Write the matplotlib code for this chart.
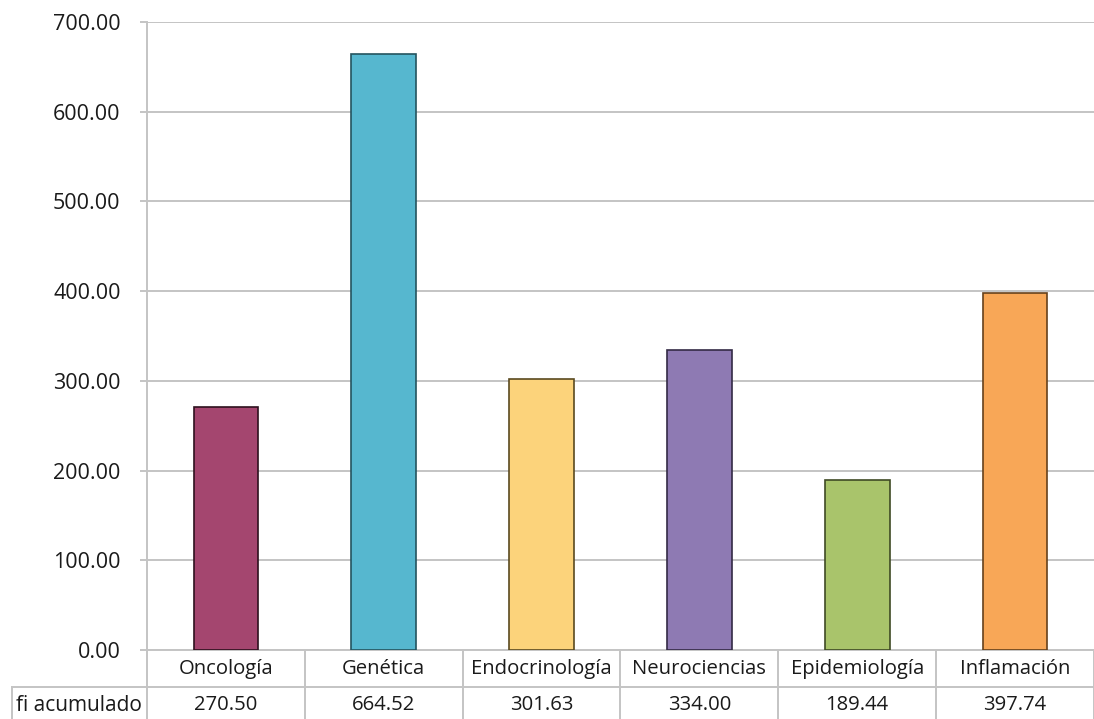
import matplotlib
matplotlib.use("Agg")
import matplotlib.pyplot as plt
from matplotlib.lines import Line2D

categories = ["Oncología", "Genética", "Endocrinología", "Neurociencias", "Epidemiología", "Inflamación"]
values = [270.50, 664.52, 301.63, 334.00, 189.44, 397.74]
row_label = "fi acumulado"
yticks = [0, 100, 200, 300, 400, 500, 600, 700]
colors = ["#A4466F", "#56B7CF", "#FCD37B", "#8E7AB3", "#A9C46B", "#F8A757"]
edges = ["#2E111E", "#24545F", "#5A4A20", "#332A45", "#3F4A25", "#66411C"]

plt.rcParams['font.family'] = ['Open Sans', 'DejaVu Sans']

fig = plt.figure(figsize=(10.94, 7.19), dpi=100)
ax = fig.add_axes([147/1094, 69/719, 947/1094, 628/719])

x = list(range(len(categories)))
ax.bar(x, values, width=0.41, color=colors, edgecolor=edges, linewidth=1.2, zorder=3)

ax.set_xlim(-0.5, len(categories) - 0.5)
ax.set_ylim(0, 700)
ax.set_yticks(yticks)
ax.set_yticklabels([f"{v:.2f}" for v in yticks], fontsize=15.5, color="#1a1a1a")
ax.yaxis.grid(True, color="#C4C4C4", linewidth=1.4, zorder=0)
ax.set_xticks([])
for s in ["top", "right", "bottom"]:
    ax.spines[s].set_visible(False)
ax.spines["left"].set_color("#C4C4C4")
ax.spines["left"].set_linewidth(1.4)
ax.tick_params(axis="y", length=5, width=1.4, color="#C4C4C4", pad=14)

# table below the axes
tr = ax.get_xaxis_transform()
gc = "#C4C4C4"
y_head = -0.030
y_line = -0.0589
y_data = -0.0876
y_bot = -0.115
n = len(categories)
for i in range(n + 1):
    xx = i - 0.5
    ax.add_line(Line2D([xx, xx], [0, y_bot], transform=tr, color=gc, lw=1.4, clip_on=False))
ax.add_line(Line2D([-1.355, n - 0.5], [y_line, y_line], transform=tr, color=gc, lw=1.4, clip_on=False))
ax.add_line(Line2D([-0.5, n - 0.5], [0, 0], transform=tr, color=gc, lw=1.4, clip_on=False))
ax.add_line(Line2D([-1.355, -1.355], [y_line, y_bot], transform=tr, color=gc, lw=1.4, clip_on=False))

for i, (c, v) in enumerate(zip(categories, values)):
    ax.text(i, y_head, c, transform=tr, ha="center", va="center", fontsize=14.6, color="#1a1a1a")
    ax.text(i, y_data, f"{v:.2f}", transform=tr, ha="center", va="center", fontsize=14.6, color="#1a1a1a")
ax.text(-0.93, y_data, row_label, transform=tr, ha="center", va="center", fontsize=15, color="#1a1a1a")

fig.savefig("out.png", dpi=100)
